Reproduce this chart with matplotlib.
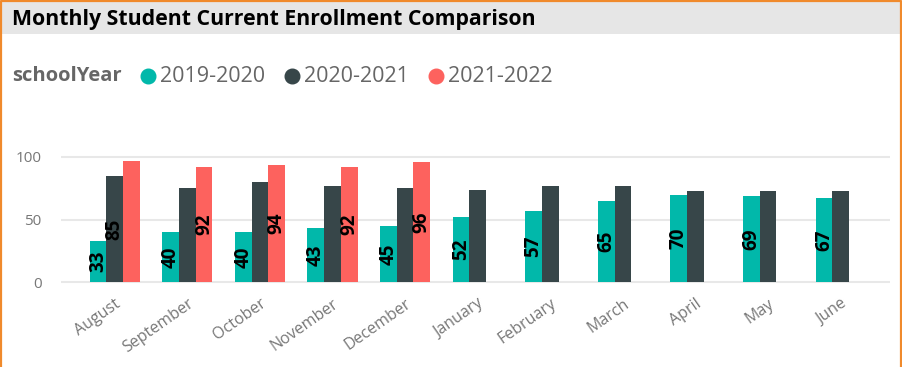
import numpy as np
import matplotlib.pyplot as plt
from matplotlib.patches import Rectangle

# ---------------------------------- data ---------------------------------- #
months = ['August', 'September', 'October', 'November', 'December', 'January',
          'February', 'March', 'April', 'May', 'June']
years = ['2019-2020', '2020-2021', '2021-2022']
enroll_1920 = [33, 40, 40, 43, 45, 52, 57, 65, 70, 69, 67]
enroll_2021 = [85, 75, 80, 77, 75, 74, 77, 77, 73, 73, 73]
enroll_2122 = [97, 92, 94, 92, 96]
# which bars carry a data label (the rest were hidden by overlap)
label_1920 = [True] * 11
label_2021 = [True, False, False, False, False, False, False, False, False, False, False]
label_2122 = [False, True, True, True, True]

colors = ['#01B8AA', '#374649', '#FD625E']

W, H = 903, 367
fig = plt.figure(figsize=(W / 100, H / 100), dpi=100)
plt.rcParams['font.family'] = ['Open Sans', 'DejaVu Sans']

def px(x0, y0, x1, y1):
    # pixel box (top-left origin) -> figure fraction rect
    return [x0 / W, 1 - y1 / H, (x1 - x0) / W, (y1 - y0) / H]

# ------------------------------ frame + title ----------------------------- #
bg = fig.add_axes([0, 0, 1, 1])
bg.set_xlim(0, W)
bg.set_ylim(H, 0)
bg.axis('off')
bg.add_patch(Rectangle((2, 2), 898, 32, color='#E6E6E6', lw=0))
bg.plot([1, 1, 901, 901], [H, 1, 1, H], color='#F08A2C', lw=1.6)
bg.text(12, 19, 'Monthly Student Current Enrollment Comparison', fontsize=15.3,
        fontweight='bold', color='black', va='center', ha='left')

# ---------------------------------- legend -------------------------------- #
bg.text(12, 76, 'schoolYear', fontsize=14.5, fontweight='bold', color='#666666',
        va='center', ha='left')
leg_x = [148, 292, 436]
for x, yr, c in zip(leg_x, years, colors):
    bg.plot(x, 76, 'o', ms=10.5, color=c)
    bg.text(x + 12, 76, yr, fontsize=15.5, color='#666666', va='center', ha='left')

# ---------------------------------- bars ---------------------------------- #
ax = fig.add_axes(px(61, 140, 890, 286))
ppu = 1.25  # pixels per enrollment unit
ax.set_ylim(-4 / ppu, (282 - 140) / ppu)
ax.set_xlim(-0.74, 10.68)

x = np.arange(len(months))
bw = 0.23
series = [(enroll_1920, label_1920), (enroll_2021, label_2021), (enroll_2122, label_2122)]
for i, (vals, labs) in enumerate(series):
    xs = x[:len(vals)] + (i - 1) * bw
    ax.bar(xs, vals, width=bw, color=colors[i], zorder=3)
    for xi, v, show in zip(xs, vals, labs):
        if show:
            ax.text(xi, v / 2, str(v), rotation=90, ha='center', va='center',
                    fontsize=13.5, fontweight='bold', color='black', zorder=4)

ax.set_yticks([0, 50, 100])
ax.grid(axis='y', color='#E8E8E8', lw=1.5, zorder=0)
ax.tick_params(axis='y', length=0, labelsize=11, labelcolor='#777777', pad=14)
ax.set_xticks(x)
ax.set_xticklabels(months, rotation=35, ha='right', rotation_mode='anchor',
                   fontsize=11.5, color='#777777')
ax.tick_params(axis='x', length=0, pad=7)
for s in ax.spines.values():
    s.set_visible(False)

fig.savefig('out.png', dpi=100)
